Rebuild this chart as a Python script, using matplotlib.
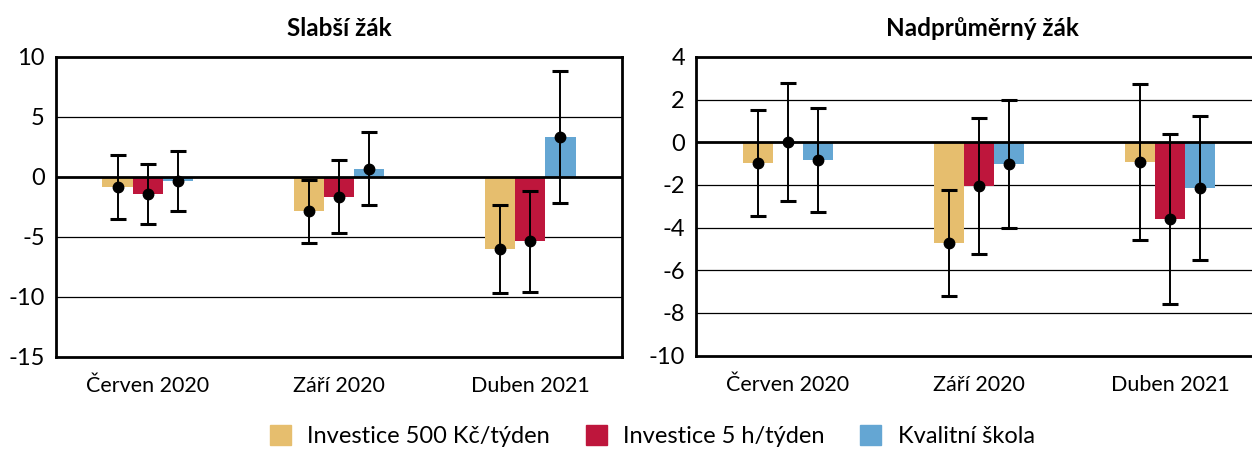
import numpy as np
import matplotlib
matplotlib.use("Agg")
from matplotlib import pyplot as plt
from matplotlib.patches import Patch

plt.rcParams['font.family'] = ['Lato', 'DejaVu Sans']

# Data
periods = ['Červen 2020', 'Září 2020', 'Duben 2021']
series = ['Investice 500 Kč/týden', 'Investice 5 h/týden', 'Kvalitní škola']
colors = ['#E6BE6E', '#BE163C', '#64A6D3']

# Slabší žák: estimates and confidence bounds
weak_val = [[-0.8, -2.85, -6.0],
            [-1.4, -1.65, -5.35],
            [-0.35, 0.7, 3.3]]
weak_lo = [[-3.5, -5.5, -9.7],
           [-3.9, -4.7, -9.6],
           [-2.85, -2.3, -2.2]]
weak_hi = [[1.8, -0.25, -2.35],
           [1.1, 1.4, -1.2],
           [2.15, 3.75, 8.8]]

# Nadprůměrný žák
good_val = [[-0.97, -4.72, -0.91],
            [0.0, -2.03, -3.6],
            [-0.84, -1.0, -2.16]]
good_lo = [[-3.47, -7.22, -4.57],
           [-2.76, -5.22, -7.6],
           [-3.25, -4.02, -5.53]]
good_hi = [[1.5, -2.22, 2.75],
           [2.78, 1.13, 0.38],
           [1.61, 2.0, 1.25]]

fig = plt.figure(figsize=(12.52, 4.49), dpi=100)
ax1 = fig.add_axes([0.0447, 0.2049, 0.4521, 0.6682])
ax2 = fig.add_axes([0.5559, 0.2080, 0.4441, 0.6651])

width = 0.158
x = np.arange(len(periods))


def draw(ax, vals, lo, hi, ylim, step, xlim):
    for i in range(3):
        pos = x + (i - 1) * width
        v = np.array(vals[i])
        err = np.vstack([v - np.array(lo[i]), np.array(hi[i]) - v])
        ax.bar(pos, v, width, color=colors[i], zorder=2)
        ax.errorbar(pos, v, yerr=err, fmt='o', color='black', ms=7.5,
                    elinewidth=1.4, capsize=6, capthick=2.2, zorder=4)
    ax.set_ylim(*ylim)
    ax.set_xlim(*xlim)
    ticks = np.arange(ylim[0], ylim[1] + step, step)
    ax.set_yticks(ticks)
    ax.set_yticklabels([str(t) for t in ticks], fontsize=17)
    for t in ticks[1:-1]:
        if t != 0:
            ax.axhline(t, color='black', lw=0.9, zorder=1)
    ax.axhline(0, color='black', lw=2, zorder=3)
    ax.set_xticks(x)
    ax.set_xticklabels(periods, fontsize=15.5)
    ax.tick_params(length=0)
    ax.tick_params(axis='x', pad=14)
    ax.tick_params(axis='y', pad=8)
    for s in ax.spines.values():
        s.set_linewidth(2)


draw(ax1, weak_val, weak_lo, weak_hi, (-15, 10), 5, (-0.48, 2.48))
# right panel runs off the figure edge
draw(ax2, good_val, good_lo, good_hi, (-10, 4), 2, (-0.482, 2.429))
ax2.spines['right'].set_visible(False)

fig.text(0.271, 0.937, 'Slabší žák', ha='center', va='center',
         fontsize=17.5, fontweight='bold')
fig.text(0.7843, 0.937, 'Nadprůměrný žák', ha='center', va='center',
         fontsize=17.5, fontweight='bold')

handles = [Patch(color=c, label=s) for c, s in zip(colors, series)]
fig.legend(handles=handles, loc='center', bbox_to_anchor=(0.521, 0.029),
           ncol=3, frameon=False, fontsize=17, handlelength=0.9,
           handleheight=0.9, columnspacing=1.5, handletextpad=0.7)

fig.savefig('out.png', dpi=100)
